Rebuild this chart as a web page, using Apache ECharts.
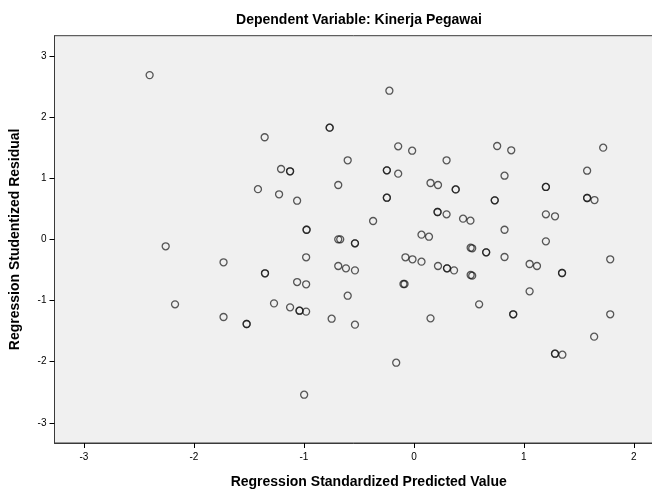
<!DOCTYPE html>
<html>
<head>
<meta charset="utf-8">
<script src="https://cdn.jsdelivr.net/npm/echarts@6/dist/echarts.min.js"></script>
<style>
html,body{margin:0;padding:0;background:#fff;}
#chart{width:652px;height:491px;}
</style>
</head>
<body>
<div id="chart"></div>
<script>
// Regression Standardized Predicted Value (x) and Studentized Residual (y)
const predicted = [
  -2.403, -1.418, -0.223, -0.766, -0.766, -1.357, -0.143, -0.016, -0.602, 0.297,
  -1.208, -1.126, -1.126, -0.246, -0.246, -0.143, -0.688, -1.226, -1.062, 0.151,
  0.219, 0.380, 0.380, -0.246, -0.246, 0.215, 0.215, 0.297, -0.371, -0.976,
  -0.976, 0.757, 0.885, 1.721, 0.824, 1.575, 0.735, 0.735, 1.200, 1.200,
  1.575, 1.575, 1.642, 0.447, 0.514, 1.200, 1.283, 0.824, -2.257, -1.731,
  -0.980, -0.688, -0.670, -1.354, -1.354, -0.688, -0.618, -1.062, -0.980, -0.602,
  -2.172, -1.731, -1.521, -1.521, -1.272, -1.126, -1.040, -1.040, -0.980, -0.748,
  -0.998, -0.536, -0.536, -0.536, -0.536, -0.077, -0.013, 0.069, 0.069, 0.137,
  0.219, 0.301, 0.301, 0.365, -0.095, -0.085, 0.151, -0.161, 1.200, 0.516,
  0.530, 0.657, 0.657, 0.824, 0.516, 0.530, 1.052, 1.119, 1.347, 1.347,
  1.785, 1.052, 0.593, 0.903, 0.903, 1.785, 1.639, 1.283, 1.283, 1.350
];
const residual = [
  2.690, 0.824, 2.435, 1.830, 1.830, 1.673, 1.525, 1.453, 1.296, 1.296,
  1.154, 1.116, 1.116, 1.132, 1.132, 1.077, 0.892, 0.740, 0.635, 0.925,
  0.892, 0.820, 0.820, 0.684, 0.684, 0.450, 0.450, 0.412, 0.303, 0.160,
  0.160, 1.530, 1.460, 1.503, 1.044, 1.126, 0.641, 0.641, 0.860, 0.860,
  0.679, 0.679, 0.646, 0.341, 0.308, 0.412, 0.380, 0.160, -0.111, -0.373,
  -0.291, 0.003, 0.003, -0.553, -0.553, -0.434, -0.472, -0.696, -0.733, -0.920,
  -1.061, -1.268, -1.383, -1.383, -1.045, -1.110, -1.165, -1.165, -1.180, -1.296,
  -2.540, -0.063, -0.063, -0.505, -1.394, -0.291, -0.324, -0.363, 0.079, 0.046,
  -0.434, -0.472, -0.472, -0.505, -0.728, -0.728, -1.290, -2.016, -0.030, -0.134,
  -0.144, -0.210, -0.210, -0.286, -0.581, -0.592, -0.401, -0.434, -0.548, -0.548,
  -0.324, -0.848, -1.061, -1.224, -1.224, -1.224, -1.590, -1.869, -1.869, -1.885
];
const xTicks = [-3, -2, -1, 0, 1, 2];
const yTicks = [-3, -2, -1, 0, 1, 2, 3];

const points = predicted.map((x, i) => [x, residual[i]]);

const chart = echarts.init(document.getElementById('chart'), null, {renderer: 'canvas'});
const FONT = '"Liberation Sans", Arial, sans-serif';
chart.setOption({
  animation: false,
  backgroundColor: '#ffffff',
  title: {
    text: 'Dependent Variable: Kinerja Pegawai',
    left: 354, top: 8, textAlign: 'center',
    textStyle: {fontFamily: FONT, fontSize: 14, fontWeight: 'bold', color: '#000'}
  },
  grid: {
    left: 54.5, right: -1, top: 35.7, bottom: 48,
    containLabel: false, outerBoundsMode: 'none',
    show: true, backgroundColor: '#f0f0f0', borderColor: '#3a3a3a', borderWidth: 1
  },
  xAxis: {
    type: 'value', min: -3.268, max: 2.174,
    name: 'Regression Standardized Predicted Value',
    nameLocation: 'middle', nameGap: 32,
    nameTextStyle: {fontFamily: FONT, fontSize: 14, fontWeight: 'bold', color: '#000', padding: [0, 0, 0, 30]},
    axisLine: {show: true, onZero: false, lineStyle: {color: '#3a3a3a', width: 1}},
    axisTick: {show: true, length: 5, customValues: xTicks, lineStyle: {color: '#000'}},
    axisLabel: {customValues: xTicks, fontFamily: FONT, fontSize: 10, color: '#000', margin: 9},
    splitLine: {show: false}
  },
  yAxis: {
    type: 'value', min: -3.33, max: 3.335,
    name: 'Regression Studentized Residual',
    nameLocation: 'middle', nameGap: 32, nameRotate: 90,
    nameTextStyle: {fontFamily: FONT, fontSize: 14, fontWeight: 'bold', color: '#000'},
    axisLine: {show: true, onZero: false, lineStyle: {color: '#3a3a3a', width: 1}},
    axisTick: {show: true, length: 5, customValues: yTicks, lineStyle: {color: '#000'}},
    axisLabel: {customValues: yTicks, fontFamily: FONT, fontSize: 10, color: '#000', margin: 8},
    splitLine: {show: false}
  },
  series: [{
    type: 'scatter',
    data: points,
    symbol: 'circle',
    symbolSize: 7,
    itemStyle: {color: 'rgba(0,0,0,0)', borderColor: 'rgba(20,20,20,0.7)', borderWidth: 1.3, opacity: 1}
  }]
});
</script>
</body>
</html>
